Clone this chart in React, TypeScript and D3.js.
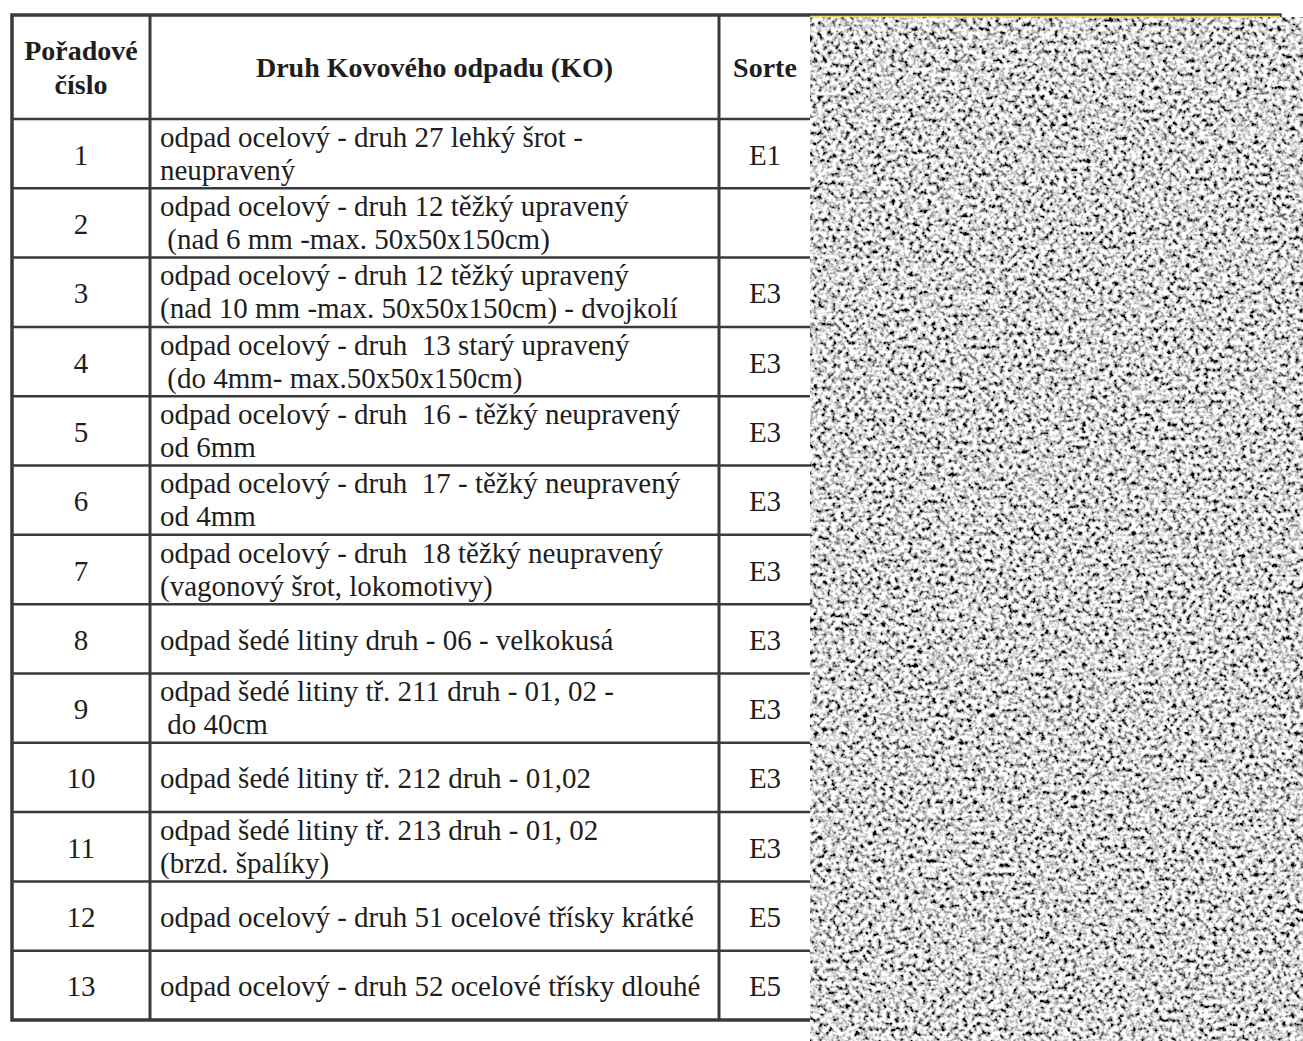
import React, { useRef, useEffect } from "react";
import * as d3 from "d3";

const headers = [["Pořadové", "číslo"], ["Druh Kovového odpadu (KO)"], ["Sorte"]];

const rowNumbers = ["1", "2", "3", "4", "5", "6", "7", "8", "9", "10", "11", "12", "13"];

const kinds = [
  ["odpad ocelový - druh 27 lehký šrot -", "neupravený"],
  ["odpad ocelový - druh 12 těžký upravený", " (nad 6 mm -max. 50x50x150cm)"],
  ["odpad ocelový - druh 12 těžký upravený", "(nad 10 mm -max. 50x50x150cm) - dvojkolí"],
  ["odpad ocelový - druh  13 starý upravený", " (do 4mm- max.50x50x150cm)"],
  ["odpad ocelový - druh  16 - těžký neupravený", "od 6mm"],
  ["odpad ocelový - druh  17 - těžký neupravený", "od 4mm"],
  ["odpad ocelový - druh  18 těžký neupravený", "(vagonový šrot, lokomotivy)"],
  ["odpad šedé litiny druh - 06 - velkokusá"],
  ["odpad šedé litiny tř. 211 druh - 01, 02 -", " do 40cm"],
  ["odpad šedé litiny tř. 212 druh - 01,02"],
  ["odpad šedé litiny tř. 213 druh - 01, 02", "(brzd. špalíky)"],
  ["odpad ocelový - druh 51 ocelové třísky krátké"],
  ["odpad ocelový - druh 52 ocelové třísky dlouhé"],
];

const sorts = ["E1", "", "E3", "E3", "E3", "E3", "E3", "E3", "E3", "E3", "E3", "E5", "E5"];

const App = () => {
  const ref = useRef(null);

  useEffect(() => {
    const width = 1303;
    const height = 1041;
    const font = "Liberation Serif, Times New Roman, serif";
    const ink = "#1e1e1e";
    const line = "#3a3a3a";
    const bodySize = 29;

    d3.select(ref.current).select("svg").remove();

    const svg = d3
      .select(ref.current)
      .append("svg")
      .attr("width", width)
      .attr("height", height)
      .style("position", "absolute")
      .style("left", "0px")
      .style("top", "0px")
      .style("background", "#fff")
      .style("font-family", font);

    // column edges: left, number | kind | sorte, right
    const colEdges = [12, 150, 719, 1280];
    const sorteX = 765;
    const top = 15;
    const headBottom = 119;
    const bottom = 1020;

    const y = d3.scaleBand().domain(rowNumbers).range([headBottom, bottom]);

    const g = svg.append("g");

    // header
    headers.forEach((h, ci) => {
      const cx = ci === 2 ? sorteX : (colEdges[ci] + colEdges[ci + 1]) / 2;
      const cy = (top + headBottom) / 2;
      const t = g
        .append("text")
        .attr("text-anchor", "middle")
        .attr("font-weight", "bold")
        .attr("font-size", 28)
        .attr("fill", ink);
      h.forEach((s, i) => {
        t.append("tspan")
          .attr("x", cx)
          .attr("y", cy + (i - (h.length - 1) / 2) * 34)
          .attr("dy", "0.35em")
          .text(s);
      });
    });

    // rows
    rowNumbers.forEach((n, i) => {
      const cy = y(n) + y.bandwidth() / 2;
      g.append("text")
        .attr("x", (colEdges[0] + colEdges[1]) / 2)
        .attr("y", cy)
        .attr("dy", "0.38em")
        .attr("text-anchor", "middle")
        .attr("font-size", bodySize)
        .attr("fill", ink)
        .text(n);

      const lines = kinds[i];
      const t = g
        .append("text")
        .attr("font-size", bodySize)
        .attr("fill", ink)
        .style("white-space", "pre");
      lines.forEach((s, j) => {
        t.append("tspan")
          .attr("x", 160)
          .attr("y", cy + (j - (lines.length - 1) / 2) * 33)
          .attr("dy", lines.length > 1 ? "0.33em" : "0.38em")
          .text(s);
      });

      g.append("text")
        .attr("x", sorteX)
        .attr("y", cy)
        .attr("dy", "0.38em")
        .attr("text-anchor", "middle")
        .attr("font-size", bodySize)
        .attr("fill", ink)
        .text(sorts[i]);
    });

    // grid lines
    const hLines = [headBottom, ...rowNumbers.slice(1).map((n) => y(n))];
    hLines.forEach((yy) => {
      g.append("line")
        .attr("x1", colEdges[0])
        .attr("x2", colEdges[3])
        .attr("y1", yy)
        .attr("y2", yy)
        .attr("stroke", line)
        .attr("stroke-width", 2.5);
    });
    colEdges.slice(1, 3).forEach((xx) => {
      g.append("line")
        .attr("x1", xx)
        .attr("x2", xx)
        .attr("y1", top)
        .attr("y2", bottom)
        .attr("stroke", line)
        .attr("stroke-width", 3);
    });
    g.append("rect")
      .attr("x", colEdges[0])
      .attr("y", top)
      .attr("width", colEdges[3] - colEdges[0])
      .attr("height", bottom - top)
      .attr("fill", "none")
      .attr("stroke", line)
      .attr("stroke-width", 3.5);

    // speckled noise patch on the right
    const defs = svg.append("defs");
    const f = defs
      .append("filter")
      .attr("id", "speckle")
      .attr("filterUnits", "userSpaceOnUse")
      .attr("x", 810)
      .attr("y", 17)
      .attr("width", width - 810 + 30)
      .attr("height", height - 17 + 30);
    f.append("feTurbulence")
      .attr("type", "fractalNoise")
      .attr("baseFrequency", 0.22)
      .attr("numOctaves", 2)
      .attr("seed", 7)
      .attr("result", "n");
    f.append("feColorMatrix")
      .attr("in", "n")
      .attr("type", "matrix")
      .attr(
        "values",
        "3.0 0 0 0 -0.82  3.0 0 0 0 -0.82  3.0 0 0 0 -0.82  0 0 0 0 1"
      )
      .attr("result", "c");
    f.append("feGaussianBlur").attr("in", "c").attr("stdDeviation", 0.7);

    svg
      .append("rect")
      .attr("x", 810)
      .attr("y", 17)
      .attr("width", width - 810 + 30)
      .attr("height", height - 17 + 30)
      .attr("fill", "#fff")
      .attr("filter", "url(#speckle)");

    svg
      .append("line")
      .attr("x1", 810)
      .attr("x2", 1280)
      .attr("y1", 16.5)
      .attr("y2", 16.5)
      .attr("stroke", "#e4e060")
      .attr("stroke-width", 1.5);
  }, []);

  return <div ref={ref}></div>;
};

export default App;
